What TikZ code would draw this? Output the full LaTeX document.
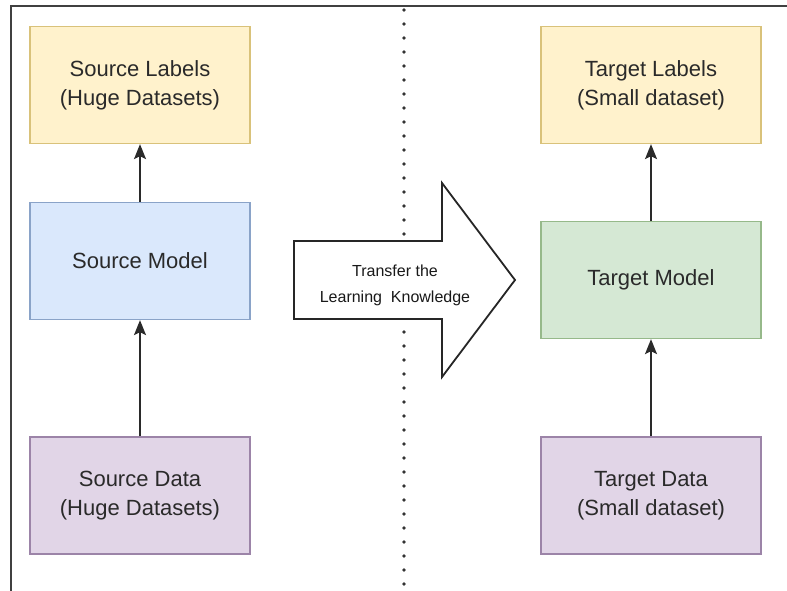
\documentclass[tikz,border=0pt]{standalone}
\usepackage{fontspec}
\setmainfont{Liberation Sans}
\usetikzlibrary{arrows.meta}
\definecolor{txt}{HTML}{2A2A2A}
\definecolor{yfill}{HTML}{FFF2CC}\definecolor{ydraw}{HTML}{D9C27A}
\definecolor{bfill}{HTML}{DAE8FC}\definecolor{bdraw}{HTML}{8AA3C8}
\definecolor{gfill}{HTML}{D5E8D4}\definecolor{gdraw}{HTML}{96B98A}
\definecolor{pfill}{HTML}{E1D5E7}\definecolor{pdraw}{HTML}{9C84A8}
\tikzset{
  box/.style={rectangle, minimum width=220pt, minimum height=117pt, line width=1.3pt,
    align=center, text=txt, font=\fontsize{22}{29}\selectfont, inner sep=0pt},
  ybox/.style={box, fill=yfill, draw=ydraw},
  bbox/.style={box, fill=bfill, draw=bdraw},
  gbox/.style={box, fill=gfill, draw=gdraw},
  pbox/.style={box, fill=pfill, draw=pdraw},
  conn/.style={draw=txt, line width=1.8pt, -{Stealth[length=15pt,width=12pt,inset=3pt]}},
  frame/.style={draw=black!75, line width=1.8pt},
  dotline/.style={draw=black!80, line width=3.8pt, line cap=round, dash pattern=on 0pt off 14pt},
  bigarrow/.style={draw=black!85, fill=white, line width=1.8pt, line join=miter},
}
\begin{document}
\begin{tikzpicture}[x=1pt,y=-1pt]
\useasboundingbox (0,0) rectangle (787,591);
% frame
\coordinate (fTL) at (11,6);
\coordinate (fTR) at (787,6);
\coordinate (fBL) at (11,591);
\draw[frame] (fTR) -- (fTL) -- (fBL);
% dotted divider
\coordinate (dTop) at (404,10);
\coordinate (dBot) at (404,588);
\draw[dotline] (dTop) -- (dBot);
% left column
\node[ybox] (slabels) at (140,85) {Source Labels\\(Huge Datasets)};
\node[bbox] (smodel) at (140,261) {Source Model};
\node[pbox] (sdata) at (140,495.5) {Source Data\\(Huge Datasets)};
% right column
\node[ybox] (tlabels) at (651,85) {Target Labels\\(Small dataset)};
\node[gbox] (tmodel) at (651,280) {Target Model};
\node[pbox] (tdata) at (651,495.5) {Target Data\\(Small dataset)};
% connectors
\draw[conn] (smodel) -- (slabels);
\draw[conn] (sdata) -- (smodel);
\draw[conn] (tmodel) -- (tlabels);
\draw[conn] (tdata) -- (tmodel);
% big transfer arrow
\draw[bigarrow] (294,241) -- (442,241) -- (442,183) -- (515,280) -- (442,377) -- (442,319) -- (294,319) -- cycle;
\node[text=black!90, align=center, font=\fontsize{16}{26}\selectfont] (transfer) at (395,285) {Transfer the\\Learning\ \ Knowledge};
\end{tikzpicture}
\end{document}
